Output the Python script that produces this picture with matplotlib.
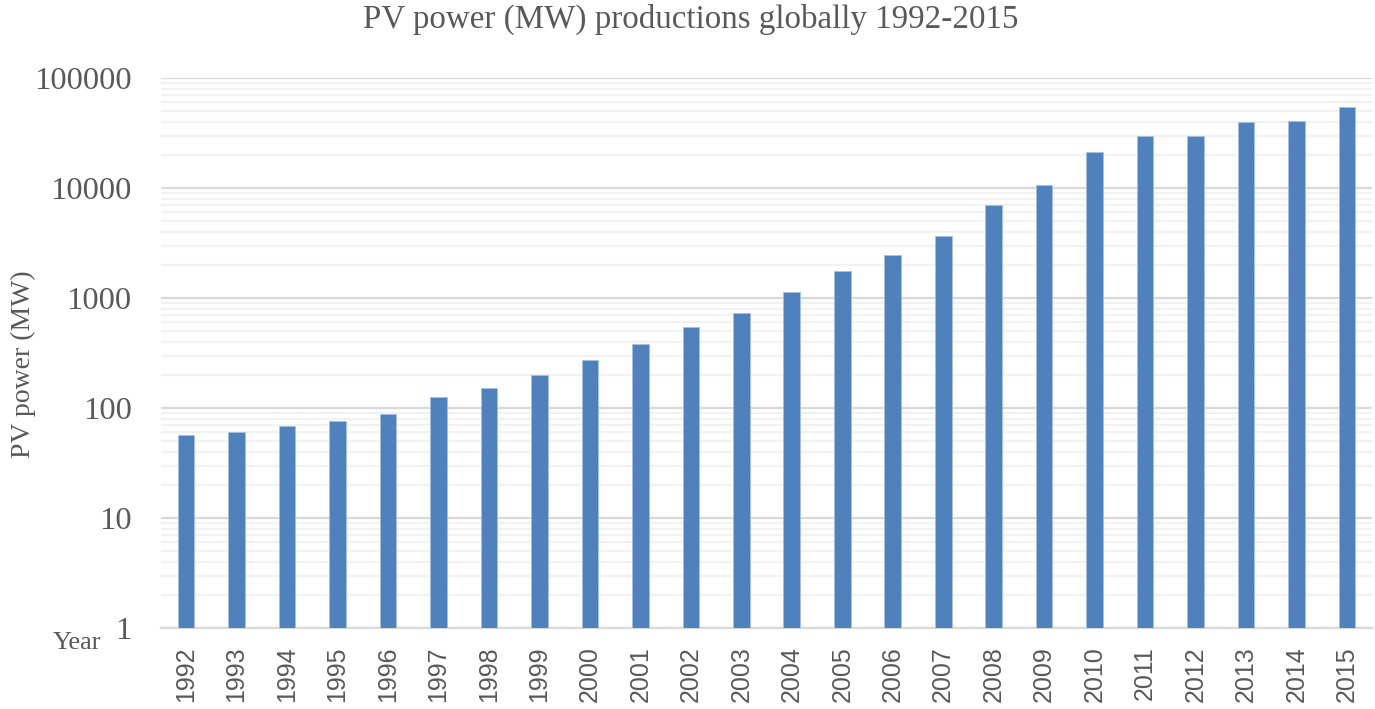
import numpy as np
import matplotlib
matplotlib.use('Agg')
import matplotlib.pyplot as plt
from matplotlib.ticker import LogLocator, FixedLocator, NullFormatter

# Data
years = ['1992', '1993', '1994', '1995', '1996', '1997', '1998', '1999',
         '2000', '2001', '2002', '2003', '2004', '2005', '2006', '2007',
         '2008', '2009', '2010', '2011', '2012', '2013', '2014', '2015']
pv_power = [57, 60, 69, 77, 88, 125, 153, 198,
            271, 380, 542, 731, 1127, 1749, 2445, 3660,
            7000, 10650, 21250, 29900, 30000, 39800, 40600, 54200]
y_ticks = [1, 10, 100, 1000, 10000, 100000]

text_grey = '#595959'
bar_blue = '#4F81BD'

fig = plt.figure(figsize=(13.75, 7.09), dpi=100)
ax = fig.add_axes([0.117, 0.1142, 0.881, 0.7758])

x = np.arange(len(years))
ax.bar(x, pv_power, width=0.33, color=bar_blue, edgecolor='#A7BFDE', linewidth=0.6, zorder=3)

ax.set_yscale('log')
ax.set_ylim(1, 100000)
ax.set_xlim(-0.5, len(years) - 0.5)

# gridlines: major and minor, light grey
ax.yaxis.set_major_locator(FixedLocator(y_ticks))
ax.yaxis.set_minor_locator(LogLocator(base=10, subs=np.arange(2, 10)))
ax.yaxis.set_minor_formatter(NullFormatter())
ax.set_yticklabels([str(v) for v in y_ticks])
ax.grid(axis='y', which='major', color='#D9D9D9', linewidth=1.6, zorder=0)
ax.grid(axis='y', which='minor', color='#F2F2F2', linewidth=1.6, zorder=0)

for side in ['top', 'right', 'left']:
    ax.spines[side].set_visible(False)
ax.spines['bottom'].set_color('#D9D9D9')
ax.spines['bottom'].set_linewidth(1.6)

ax.tick_params(axis='both', which='both', length=0)
ax.tick_params(axis='y', pad=21)
ax.tick_params(axis='x', pad=13)

ax.set_xticks(x)
ax.set_xticklabels(years, rotation=90, family='Liberation Sans', fontsize=18, color=text_grey)
for lab in ax.get_yticklabels():
    lab.set_family('Liberation Serif')
    lab.set_fontsize(23.4)
    lab.set_color(text_grey)

ax.set_ylabel('PV power (MW)', family='Liberation Serif', fontsize=20, color=text_grey)
ax.yaxis.set_label_coords(-0.103, 0.479)

fig.text(0.5025, 0.9605, 'PV power (MW) productions globally 1992-2015', ha='center', va='baseline',
         family='Liberation Serif', fontsize=23.8, color=text_grey)
fig.text(0.0385, 0.0846, 'Year', ha='left', va='baseline', family='Liberation Serif',
         fontsize=19, color=text_grey)

fig.savefig('out.png', dpi=100)
